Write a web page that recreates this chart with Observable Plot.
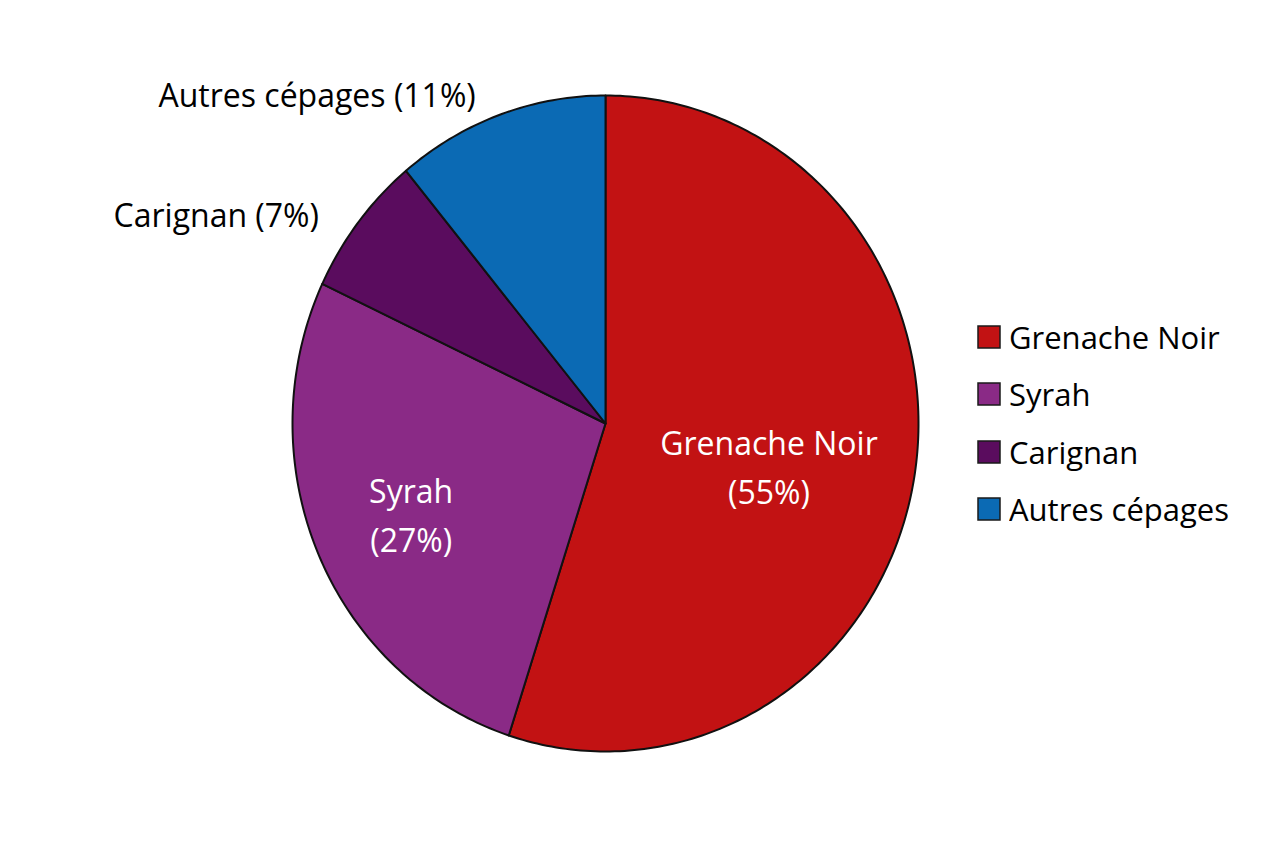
<!DOCTYPE html>
<html><head><meta charset="utf-8">
<script src="https://cdn.jsdelivr.net/npm/d3@7"></script>
<script src="https://cdn.jsdelivr.net/npm/@observablehq/plot@0.6"></script>
<style>
body{margin:0;background:#fff;font-family:"Open Sans",sans-serif;}
#wrap{position:relative;width:1264px;height:848px;overflow:hidden;}
#legend{position:absolute;left:978px;top:308px;}
.lg-swatches{font-family:"Open Sans",sans-serif;font-size:31px;color:#000;margin:0 !important;}
.lg-swatch{height:57.5px;padding:0 !important;display:flex;align-items:center;}
.lg-swatch svg{margin-right:9px !important;}
.lg-swatch svg rect{stroke:#1a1a1a;stroke-width:1.5px;}
</style>
</head><body>
<div id="wrap"><div id="chart"></div><div id="legend"></div></div>
<script>
const categories = ["Grenache Noir", "Syrah", "Carignan", "Autres cépages"];
const shares = [55, 27, 7, 11];
const pctLabels = ["55%", "27%", "7%", "11%"];
const colors = ["#c21213", "#8a2a86", "#5a0c5e", "#0b6ab4"];

const arcs = d3.pie().sort(null).value(d => d)(shares);
const slices = arcs.map((a, i) => {
  const n = Math.max(4, Math.ceil((a.endAngle - a.startAngle) / (Math.PI * 2) * 400));
  const pts = [{x: 0, y: 0}];
  for (let k = 0; k <= n; k++) {
    const t = a.startAngle + (a.endAngle - a.startAngle) * k / n;
    pts.push({x: Math.sin(t), y: Math.cos(t)});
  }
  return {cat: categories[i], color: colors[i], pts};
});
const inner = [], outer = [];
arcs.forEach((a, i) => {
  const m = (a.startAngle + a.endAngle) / 2;
  if (shares[i] >= 15) {
    const r = 0.6;
    inner.push({x: r * Math.sin(m), y: r * Math.cos(m), text: `${categories[i]}\n(${pctLabels[i]})`});
  } else {
    const r = 1.11;
    outer.push({x: r * Math.sin(m), y: r * Math.cos(m), text: `${categories[i]} (${pctLabels[i]})`});
  }
});

const chart = Plot.plot({
  width: 1264, height: 848, margin: 0,
  x: {domain: [-1, 1], range: [292, 918], axis: null},
  y: {domain: [-1, 1], range: [751, 95], axis: null},
  style: {fontFamily: "'Open Sans', sans-serif", background: "white"},
  marks: [
    ...slices.map(s => Plot.line(s.pts, {x: "x", y: "y", curve: "linear-closed", fill: s.color, stroke: "#111", strokeWidth: 2, strokeLinejoin: "round"})),
    Plot.text(inner, {x: "x", y: "y", text: "text", fill: "white", fontSize: 32, lineHeight: 1.53, dx: -22, dy: 10}),
    Plot.text(outer, {x: "x", y: "y", text: "text", fill: "black", fontSize: 32, textAnchor: "end", dx: -12, dy: 16})
  ]
});
document.getElementById("chart").appendChild(chart);

const legend = Plot.legend({
  color: {domain: categories, range: colors},
  legend: "swatches", columns: 1, swatchSize: 22, className: "lg"
});
document.getElementById("legend").appendChild(legend);
</script>
</body></html>
